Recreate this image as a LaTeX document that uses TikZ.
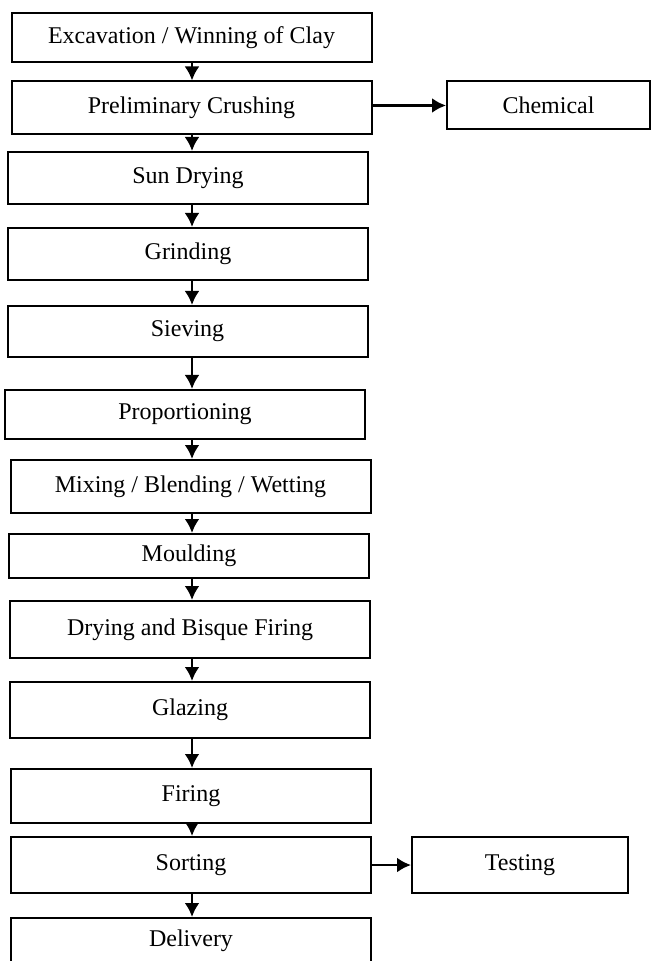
\documentclass[tikz,border=0pt]{standalone}
\usepackage{fontspec}
\setmainfont{Liberation Serif}
\usetikzlibrary{arrows.meta}

\begin{document}
\begin{tikzpicture}[>={Latex[length=7pt,width=7.5pt]}, x=0.5pt, y=-0.5pt,
  stage/.style={draw, line width=1pt, minimum width=180pt, minimum height=26pt,
    inner sep=0pt, font=\fontsize{12}{14}\selectfont},
  flow/.style={->, line width=1.3pt}]
  \useasboundingbox (0,0) rectangle (651,961);
  \coordinate (spine) at (192,0);
  \node[stage, minimum height=24.5pt] (exc)   at (191.5,37.5) {Excavation / Winning of Clay};
  \node[stage, minimum height=26.5pt] (crush) at (191.5,108)  {Preliminary Crushing};
  \node[stage, minimum width=101.5pt, minimum height=24pt] (chem) at (548.5,105.5) {Chemical};
  \node[stage] (sun)   at (188,178)   {Sun Drying};
  \node[stage] (grind) at (188,254)   {Grinding};
  \node[stage, minimum height=25.5pt] (sieve) at (187.5,331.5) {Sieving};
  \node[stage, minimum height=24.5pt] (prop)  at (185,414.5)   {Proportioning};
  \node[stage, minimum height=26.5pt] (mix)   at (190.5,486.5) {Mixing / Blending / Wetting};
  \node[stage, minimum height=22pt]   (mould) at (189,556)     {Moulding};
  \node[stage, minimum height=28.5pt] (dry)   at (190,629.5)   {Drying and Bisque Firing};
  \node[stage, minimum height=28pt]   (glaze) at (190,710)     {Glazing};
  \node[stage, minimum height=27pt]   (fire)  at (191,796)     {Firing};
  \node[stage, minimum height=28pt]   (sort)  at (191,865)     {Sorting};
  \node[stage, minimum width=108pt, minimum height=28pt] (test) at (520,865) {Testing};
  \node[stage, minimum height=28pt, text depth=8pt] (deliv) at (191,946) {Delivery};
  \draw[flow] (exc.south -| spine)   -- (crush.north -| spine);
  \draw[flow] (crush.south -| spine) -- (sun.north -| spine);
  \draw[flow] (sun.south -| spine)   -- (grind.north -| spine);
  \draw[flow] (grind.south -| spine) -- (sieve.north -| spine);
  \draw[flow] (sieve.south -| spine) -- (prop.north -| spine);
  \draw[flow] (prop.south -| spine)  -- (mix.north -| spine);
  \draw[flow] (mix.south -| spine)   -- (mould.north -| spine);
  \draw[flow] (mould.south -| spine) -- (dry.north -| spine);
  \draw[flow] (dry.south -| spine)   -- (glaze.north -| spine);
  \draw[flow] (glaze.south -| spine) -- (fire.north -| spine);
  \draw[flow] (fire.south -| spine)  -- (sort.north -| spine);
  \draw[flow] (sort.south -| spine)  -- (deliv.north -| spine);
  \draw[flow] (crush.east |- chem.west) -- (chem.west);
  \draw[flow] (sort.east) -- (test.west);
\end{tikzpicture}
\end{document}
